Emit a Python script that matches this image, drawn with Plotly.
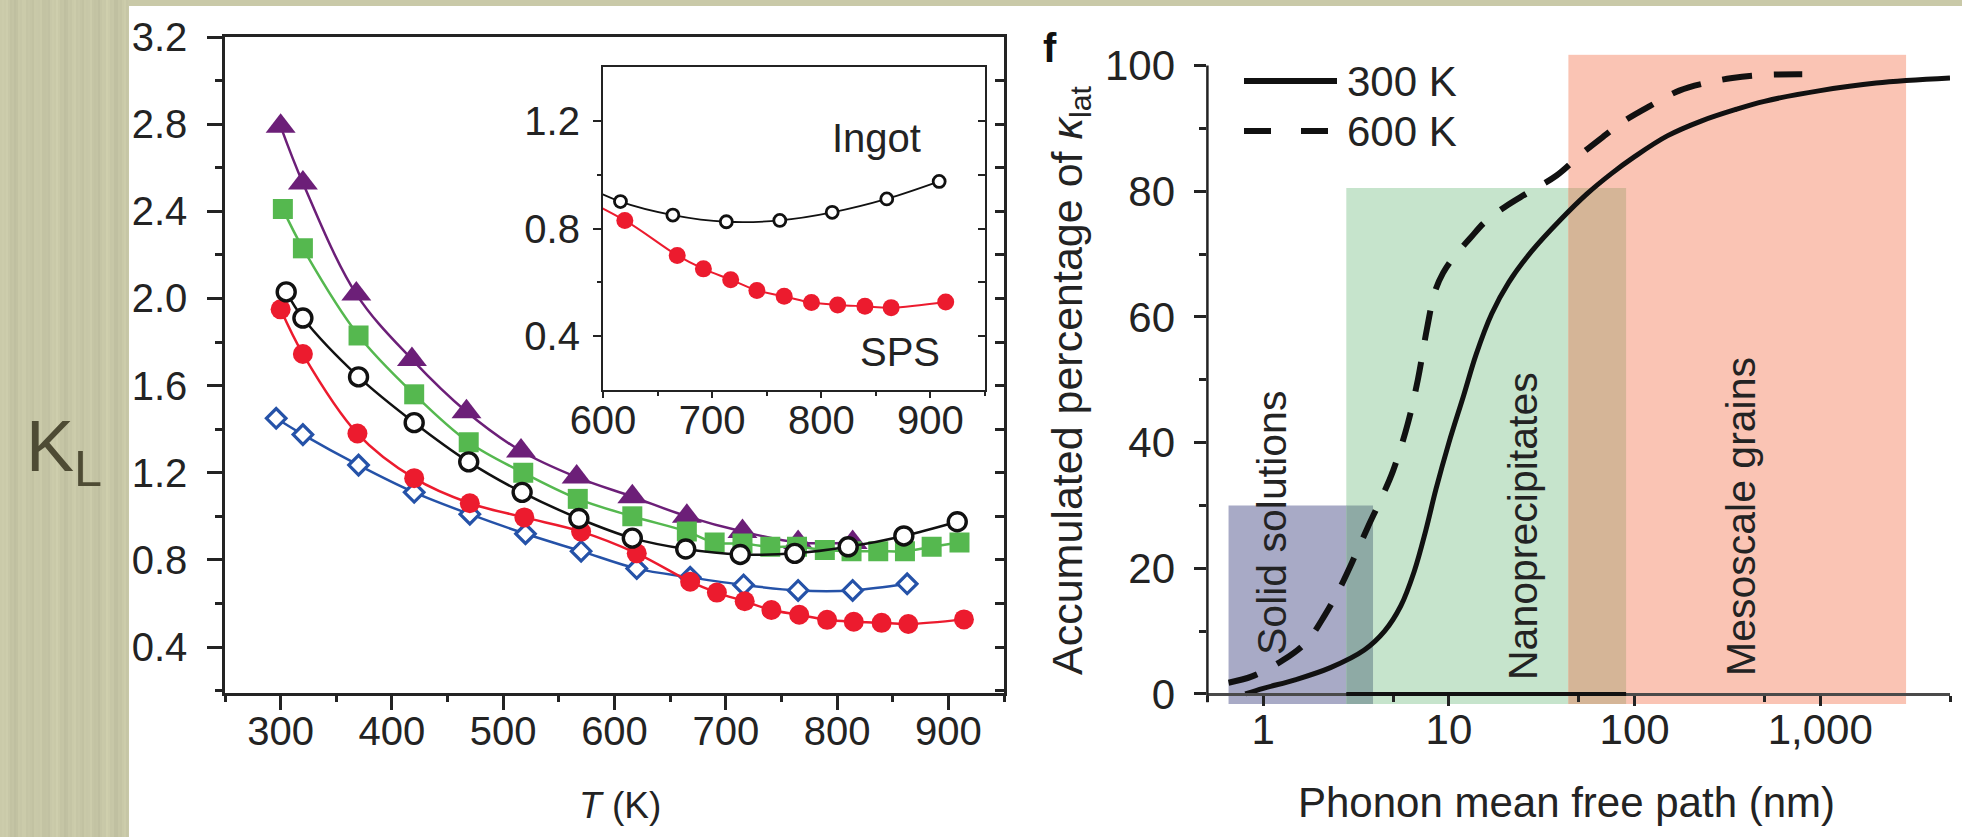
import math
import plotly.graph_objects as go

W, H = 1962, 837

# ---------------- panel e: lattice thermal conductivity vs temperature ----------------
T_tri = [300, 320, 368, 418, 467, 516, 566, 616, 665, 715, 765, 814]
kl_tri = [2.79, 2.53, 2.02, 1.72, 1.48, 1.30, 1.18, 1.09, 1.00, 0.93, 0.88, 0.88]

T_sq = [302, 320, 370, 420, 469, 518, 567, 616, 665, 690, 715, 740, 764, 789, 813, 837, 861, 885, 910]
kl_sq = [2.41, 2.23, 1.83, 1.56, 1.34, 1.20, 1.08, 1.00, 0.93, 0.88, 0.875, 0.86, 0.86, 0.845, 0.84,
         0.84, 0.84, 0.86, 0.88]

T_ingot = [305, 320, 370, 420, 469, 517, 568, 616, 664, 713, 762, 810, 860, 908]
kl_ingot = [2.03, 1.91, 1.64, 1.43, 1.25, 1.11, 0.99, 0.90, 0.85, 0.825, 0.83, 0.86, 0.91, 0.975]

T_sps = [300, 320, 369, 420, 470, 519, 570, 620, 668, 692, 717, 741, 766, 791, 815, 840, 864, 914]
kl_sps = [1.95, 1.745, 1.38, 1.175, 1.06, 0.995, 0.93, 0.83, 0.70, 0.65, 0.61, 0.57, 0.548, 0.525,
          0.516, 0.511, 0.506, 0.527]

T_dia = [296, 320, 370, 420, 470, 520, 570, 620, 668, 716, 765, 814, 863]
kl_dia = [1.45, 1.375, 1.235, 1.11, 1.01, 0.92, 0.84, 0.76, 0.72, 0.685, 0.66, 0.66, 0.69]

main_xticks = [300, 400, 500, 600, 700, 800, 900]
main_yticks = [0.4, 0.8, 1.2, 1.6, 2.0, 2.4, 2.8, 3.2]
inset_xticks = [600, 700, 800, 900]
inset_yticks = [0.4, 0.8, 1.2]

# ---------------- panel f: accumulated lattice thermal conductivity ----------------
mfp_300 = [0.8, 1.0, 1.5, 2.3, 3.5, 4.5, 5.5, 6.5, 7.5, 8.5, 10, 12, 14, 17, 21, 28, 40, 55, 75,
           100, 150, 230, 350, 500, 1000, 2000, 5000]
acc_300 = [0.0, 0.9, 2.3, 4.2, 7.0, 10.0, 14.0, 19.5, 26.0, 32.5, 40.0, 47.5, 54.0, 60.5, 65.5, 70.5,
           75.5, 79.5, 82.8, 85.5, 88.8, 91.2, 93.0, 94.3, 96.0, 97.2, 98.0]

mfp_600 = [0.65, 0.87, 1.28, 1.71, 2.15, 2.6, 3.1, 3.65, 4.3, 5.0, 6.0, 6.8, 7.6, 8.4, 9.3, 10.6,
           13, 15.5, 20, 26.4, 38, 52, 70, 86, 120, 174, 250, 336, 500, 800]
acc_600 = [1.8, 2.8, 5.4, 8.3, 12.6, 17.0, 21.8, 26.5, 31.0, 35.5, 43.0, 50.0, 58.0, 64.0, 67.0, 69.5,
           72.5, 75.0, 77.5, 79.7, 82.5, 86.0, 89.0, 91.0, 93.5, 96.0, 97.3, 98.0, 98.5, 98.6]

region_names = ["Solid solutions", "Nanoprecipitates", "Mesoscale grains"]
region_x0 = [0.65, 2.8, 44.0]
region_x1 = [3.9, 90.0, 2900.0]
region_top = [30.0, 80.5, 101.7]
region_bottom = -1.6
region_colors = ["#a8aac6", "#c6e4cc", "#fac4b4"]
overlap_colors = {(0, 1): "#8eaaa5", (1, 2): "#d5b597"}

f_xticks = [1, 10, 100, 1000]
f_xticktext = ["1", "10", "100", "1,000"]
f_yticks = [0, 20, 40, 60, 80, 100]

# ---------------- styling ----------------
FONT = "Liberation Sans, Arial, Helvetica, sans-serif"
INK = "#232323"
TICK_E = 40      # tick labels, panel e
TICK_F = 42      # tick labels, panel f
AXW = 2.5
BACKDROP = "#c9c9a8"

PURPLE = "#6c1f78"
GREEN = "#55b84f"
RED = "#ec1b2e"
BLUE = "#2552a8"
BLACK = "#111111"


def px(x):
    return x / W


def py(y):
    return 1 - y / H


fig = go.Figure()

# main panel series (drawn bottom to top)
fig.add_trace(go.Scatter(x=T_dia, y=kl_dia, mode="lines+markers", line=dict(color=BLUE, width=2.5, shape="spline"),
                         marker=dict(symbol="diamond", size=15, color="white", line=dict(color=BLUE, width=3.2)),
                         xaxis="x", yaxis="y", showlegend=False))
fig.add_trace(go.Scatter(x=T_sps, y=kl_sps, mode="lines+markers", line=dict(color=RED, width=2.5, shape="spline"),
                         marker=dict(symbol="circle", size=20, color=RED),
                         xaxis="x", yaxis="y", showlegend=False))
fig.add_trace(go.Scatter(x=T_tri, y=kl_tri, mode="lines+markers", line=dict(color=PURPLE, width=2.5, shape="spline"),
                         marker=dict(symbol="triangle-up", size=26, color=PURPLE),
                         xaxis="x", yaxis="y", showlegend=False))
fig.add_trace(go.Scatter(x=T_sq, y=kl_sq, mode="lines+markers", line=dict(color=GREEN, width=2.5, shape="spline"),
                         marker=dict(symbol="square", size=20, color=GREEN),
                         xaxis="x", yaxis="y", showlegend=False))
fig.add_trace(go.Scatter(x=T_ingot, y=kl_ingot, mode="lines+markers", line=dict(color=BLACK, width=2.5, shape="spline"),
                         marker=dict(symbol="circle", size=18, color="white", line=dict(color=BLACK, width=3.4)),
                         xaxis="x", yaxis="y", showlegend=False))
# carrier for the inward right-hand ticks of the main panel
fig.add_trace(go.Scatter(x=T_ingot, y=kl_ingot, mode="lines", line=dict(width=0), opacity=0,
                         hoverinfo="skip", xaxis="x", yaxis="y3", showlegend=False))

# inset: ingot vs SPS
fig.add_trace(go.Scatter(x=T_ingot, y=kl_ingot, mode="lines+markers", line=dict(color=BLACK, width=1.8, shape="spline"),
                         marker=dict(symbol="circle", size=12, color="white", line=dict(color=BLACK, width=2.8)),
                         xaxis="x2", yaxis="y2", showlegend=False))
fig.add_trace(go.Scatter(x=T_sps, y=kl_sps, mode="lines+markers", line=dict(color=RED, width=2, shape="spline"),
                         marker=dict(symbol="circle", size=17, color=RED),
                         xaxis="x2", yaxis="y2", showlegend=False))
fig.add_trace(go.Scatter(x=T_ingot, y=kl_ingot, mode="lines", line=dict(width=0), opacity=0,
                         hoverinfo="skip", xaxis="x2", yaxis="y4", showlegend=False))

# panel f curves
fig.add_trace(go.Scatter(x=mfp_300, y=acc_300, mode="lines", line=dict(color="#111", width=5, shape="spline"),
                         xaxis="x5", yaxis="y5", showlegend=False))
fig.add_trace(go.Scatter(x=mfp_600, y=acc_600, mode="lines",
                         line=dict(color="#111", width=6, shape="spline", dash="30px,22px"),
                         xaxis="x5", yaxis="y5", showlegend=False))

shapes = []
# faint vertical grain in the backdrop strip on the left
for k in range(0, 130, 2):
    s = math.sin(k * 0.37) + 0.7 * math.sin(k * 1.13 + 0.5) + 0.5 * math.sin(k * 2.9 + 2.0)
    shade = int(199 + 4 * s)
    shapes.append(dict(type="line", xref="paper", yref="paper", x0=px(k + 1), x1=px(k + 1), y0=0, y1=1,
                       line=dict(color=f"rgb({shade},{shade},{int(shade * 0.84)})", width=2), layer="below"))
# white figure card over the backdrop
shapes.append(dict(type="rect", xref="paper", yref="paper", x0=px(129), x1=1.0, y0=0.0, y1=py(6),
                   fillcolor="white", line=dict(width=0), layer="below"))

# length-scale regions of panel f, with their overlaps
for i in range(3):
    shapes.append(dict(type="rect", xref="x5", yref="y5", x0=region_x0[i], x1=region_x1[i],
                       y0=region_bottom, y1=region_top[i], fillcolor=region_colors[i],
                       line=dict(width=0), layer="below"))
for (a, b), col in overlap_colors.items():
    shapes.append(dict(type="rect", xref="x5", yref="y5", x0=region_x0[b], x1=region_x1[a],
                       y0=region_bottom, y1=min(region_top[a], region_top[b]), fillcolor=col,
                       line=dict(width=0), layer="below"))
# dark base edge of the nanoprecipitate band
shapes.append(dict(type="line", xref="x5", yref="y5", x0=region_x0[1], x1=region_x1[1], y0=0, y1=0,
                   line=dict(color="#111", width=4), layer="above"))

# panel f y-axis spine (0 to 100 %)
F_Y0_PX, F_UNIT_PX = 694.0, 6.285
F_LEFT_PX, F_RIGHT_PX = 1207.4, 1950.0
shapes.append(dict(type="line", xref="paper", yref="paper", x0=px(F_LEFT_PX), x1=px(F_LEFT_PX),
                   y0=py(F_Y0_PX + 1.3 * F_UNIT_PX), y1=py(F_Y0_PX - 100 * F_UNIT_PX),
                   line=dict(color=INK, width=AXW)))

# legend samples for panel f
shapes.append(dict(type="line", xref="paper", yref="paper", x0=px(1244), x1=px(1337), y0=py(81), y1=py(81),
                   line=dict(color="#111", width=6)))
shapes.append(dict(type="line", xref="paper", yref="paper", x0=px(1244), x1=px(1334), y0=py(131), y1=py(131),
                   line=dict(color="#111", width=6, dash="27px,30px")))

common_ax = dict(showgrid=False, zeroline=False, showline=True, linecolor=INK, linewidth=AXW,
                 tickcolor=INK, tickwidth=AXW, automargin=False)

f_range_y = [region_bottom, region_top[2] + 0.1]
f_dom_y = [py(F_Y0_PX - f_range_y[0] * F_UNIT_PX), py(F_Y0_PX - f_range_y[1] * F_UNIT_PX)]

fig.update_layout(
    width=W, height=H,
    margin=dict(l=0, r=0, t=0, b=0, autoexpand=False),
    paper_bgcolor=BACKDROP,
    plot_bgcolor="white",
    font=dict(family=FONT, color=INK),
    hovermode=False,
    shapes=shapes,
    xaxis=dict(domain=[px(225), px(1004)], range=[250, 950], anchor="y", mirror=True,
               tickmode="array", tickvals=main_xticks, ticks="outside", ticklen=14, ticklabelstandoff=-13,
               tickfont=dict(family=FONT, size=TICK_E, color=INK),
               minor=dict(tickmode="array", tickvals=[250 + 100 * i for i in range(8)], ticks="outside",
                          ticklen=6, tickwidth=AXW, tickcolor=INK),
               **common_ax),
    yaxis=dict(domain=[py(692.8), py(37)], range=[0.19, 3.2], anchor="x", mirror=True,
               tickmode="array", tickvals=main_yticks, ticktext=[f"{v:.1f}" for v in main_yticks],
               ticks="outside", ticklen=15, ticklabelstandoff=12,
               tickfont=dict(family=FONT, size=TICK_E, color=INK),
               minor=dict(tickmode="array", tickvals=[round(0.2 + 0.4 * i, 1) for i in range(8)],
                          ticks="outside", ticklen=7, tickwidth=AXW, tickcolor=INK),
               **common_ax),
    yaxis3=dict(overlaying="y", side="right", anchor="x", range=[0.19, 3.2], showline=False,
                showgrid=False, zeroline=False, showticklabels=False, ticks="inside", ticklen=9,
                tickwidth=AXW, tickcolor=INK, tickmode="array", automargin=False,
                tickvals=[round(0.2 * i, 1) for i in range(1, 17)]),
    xaxis2=dict(domain=[px(603), px(985)], range=[600, 950], anchor="y2", mirror=True,
                tickmode="array", tickvals=inset_xticks, ticks="outside", ticklen=6, ticklabelstandoff=-12,
                tickfont=dict(family=FONT, size=TICK_E, color=INK),
                minor=dict(tickmode="array", tickvals=[650, 750, 850, 950], ticks="outside", ticklen=4,
                           tickwidth=2, tickcolor=INK),
                **{**common_ax, "linewidth": 2.2, "tickwidth": 2.2}),
    yaxis2=dict(domain=[py(390), py(67)], range=[0.2, 1.4], anchor="x2", mirror=True,
                tickmode="array", tickvals=inset_yticks, ticktext=[f"{v:.1f}" for v in inset_yticks],
                ticks="outside", ticklen=8, ticklabelstandoff=5,
                tickfont=dict(family=FONT, size=TICK_E, color=INK),
                minor=dict(tickmode="array", tickvals=[0.6, 1.0], ticks="outside", ticklen=4,
                           tickwidth=2, tickcolor=INK),
                **{**common_ax, "linewidth": 2.2, "tickwidth": 2.2}),
    yaxis4=dict(overlaying="y2", side="right", anchor="x2", range=[0.2, 1.4], showline=False,
                showgrid=False, zeroline=False, showticklabels=False, ticks="inside", ticklen=7,
                tickwidth=2, tickcolor=INK, tickmode="array", automargin=False,
                tickvals=[round(0.2 * i, 1) for i in range(2, 7)]),
    xaxis5=dict(type="log", domain=[px(F_LEFT_PX), px(F_RIGHT_PX)],
                range=[math.log10(0.5), math.log10(5000)], anchor="free", position=py(F_Y0_PX),
                tickmode="array", tickvals=f_xticks, ticktext=f_xticktext, ticks="outside", ticklen=10,
                ticklabelstandoff=-12, tickfont=dict(family=FONT, size=TICK_F, color=INK),
                minor=dict(tickmode="array", tickvals=[0.5, 5, 50, 500, 5000], ticks="outside", ticklen=6,
                           tickwidth=AXW, tickcolor=INK),
                **{**common_ax, "linecolor": "#4a4a4a"}),
    yaxis5=dict(domain=f_dom_y, range=f_range_y, anchor="x5",
                tickmode="array", tickvals=f_yticks, ticks="outside", ticklen=12, ticklabelstandoff=11,
                tickfont=dict(family=FONT, size=TICK_F, color=INK),
                minor=dict(tickmode="array", tickvals=[10, 30, 50, 70, 90], ticks="outside", ticklen=7,
                           tickwidth=AXW, tickcolor=INK),
                **{**common_ax, "showline": False}),
)


def note(text, x, y, size, xanchor="center", angle=0, color=INK):
    return dict(text=text, x=px(x), y=py(y), xref="paper", yref="paper", showarrow=False,
                xanchor=xanchor, yanchor="middle", textangle=angle,
                font=dict(family=FONT, size=size, color=color))


ann = [
    note("K<sub>L</sub>", 64, 451, 72, color="#4e4b34"),
    note("<i>T</i> (K)", 620, 805, 37),
    note("<b>f</b>", 1050, 48, 40, color="#111"),
    note("Phonon mean free path (nm)", 1566, 802, 42),
    note("Accumulated percentage of <i>κ</i><sub>lat</sub>", 1070, 381, 43, angle=-90),
    note("300 K", 1345, 81, 42, xanchor="left"),
    note("600 K", 1345, 132, 42, xanchor="left"),
]
for name, xc, yc in zip(region_names, [1272, 1523, 1741], [523, 526, 517]):
    ann.append(note(name, xc, yc, 41, angle=-90))
ann.append(dict(text="Ingot", x=851, y=1.136, xref="x2", yref="y2", showarrow=False,
                xanchor="center", yanchor="middle", font=dict(family=FONT, size=TICK_E, color=INK)))
ann.append(dict(text="SPS", x=872, y=0.343, xref="x2", yref="y2", showarrow=False,
                xanchor="center", yanchor="middle", font=dict(family=FONT, size=TICK_E, color=INK)))
fig.update_layout(annotations=ann)

fig.write_html("out.html", config=dict(displayModeBar=False))
